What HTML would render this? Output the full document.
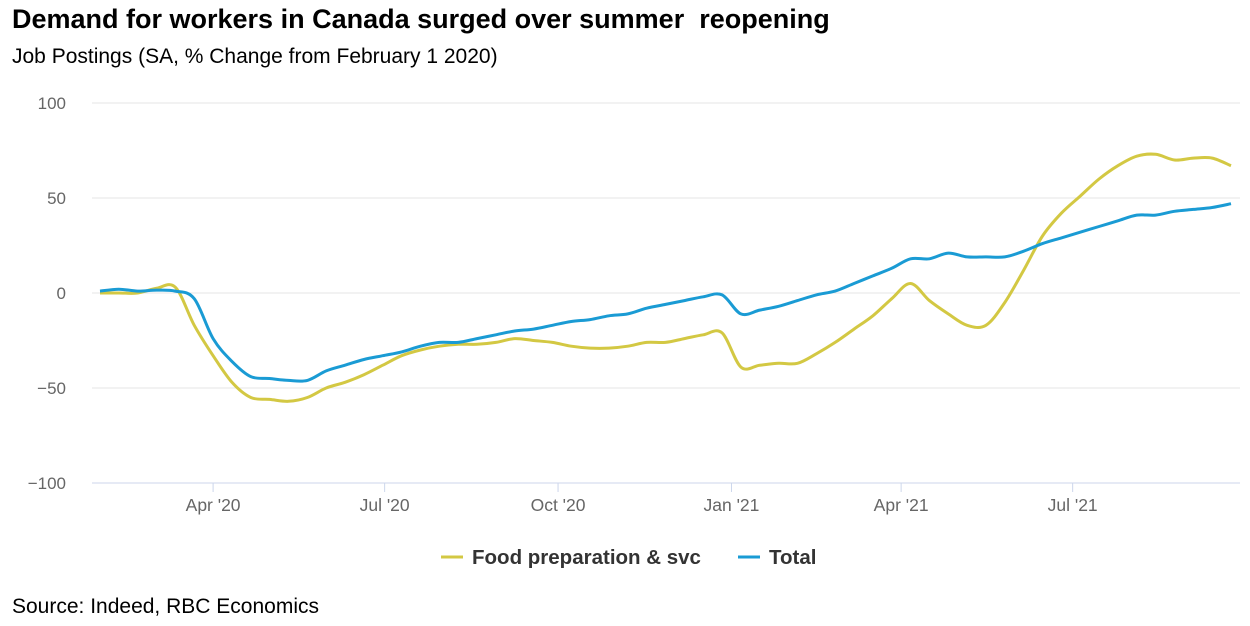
<!DOCTYPE html>
<html><head><meta charset="utf-8"><style>
body{margin:0;background:#fff;font-family:"Liberation Sans",Arial,sans-serif;}
#wrap{position:relative;width:1250px;height:626px;overflow:hidden;}
.t{position:absolute;white-space:nowrap;color:#000;}
</style></head><body>
<div id="wrap">
<div class="t" style="left:12px;top:4px;font-size:27px;font-weight:bold;">Demand for workers in Canada surged over summer&nbsp; reopening</div>
<div class="t" style="left:12px;top:45px;font-size:21px;">Job Postings (SA, % Change from February 1 2020)</div>
<svg id="chart" width="1250" height="626" style="position:absolute;left:0;top:0"></svg>
<div class="t" style="left:12px;top:595px;font-size:21px;">Source: Indeed, RBC Economics</div>
</div>
<script>
const startDate = "2020-02-01";
const stepDays = 10;
const totalValues = [1,2,1,1.5,1,-3,-24,-36,-44,-45,-46,-46,-41,-38,-35,-33,-31,-28,-26,-26,-24,-22,-20,-19,-17,-15,-14,-12,-11,-8,-6,-4,-2,-1,-11,-9,-7,-4,-1,1,5,9,13,18,18,21,19,19,19,22,26,29,32,35,38,41,41,43,44,45,47];
const foodValues = [0,0,0,2.5,3,-17,-33,-47,-55,-56,-57,-55,-50,-47,-43,-38,-33,-30,-28,-27,-27,-26,-24,-25,-26,-28,-29,-29,-28,-26,-26,-24,-22,-21,-39,-38,-37,-37,-32,-26,-19,-12,-3,5,-4,-11,-17,-17,-5,12,30,42,51,60,67,72,73,70,71,71,67];
const yTicks = [100,50,0,-50,-100];
const yTickLabels = ["100","50","0","\u221250","\u2212100"];
const xTickDates = ["2020-04-01","2020-07-01","2020-10-01","2021-01-01","2021-04-01","2021-07-01"];
const xTickLabels = ["Apr '20","Jul '20","Oct '20","Jan '21","Apr '21","Jul '21"];
const seriesNames = ["Food preparation & svc","Total"];
const seriesColors = ["#d3c843","#1a9bd4"];

const NS="http://www.w3.org/2000/svg";
const svg=document.getElementById('chart');
const t0=Date.parse(startDate);
function dayOf(s){return (Date.parse(s)-t0)/86400000;}
function xS(d){return 100+d*1.885;}
function yS(v){return 293-v*1.9;}
function mk(tag,attrs){const e=document.createElementNS(NS,tag);for(const k in attrs)e.setAttribute(k,attrs[k]);svg.appendChild(e);return e;}
yTicks.forEach((v,i)=>{
  const g=mk('line',{x1:92,x2:1240,y1:yS(v),y2:yS(v),stroke:v===-100?'#ccd6eb':'#e6e6e6','stroke-width':1});
  
  
  const t=mk('text',{x:66,y:yS(v)+6,'text-anchor':'end','font-size':17,fill:'#666','font-family':'Liberation Sans, sans-serif'});
  t.textContent=yTickLabels[i];
  
  
});
xTickDates.forEach((d,i)=>{
  const x=xS(dayOf(d));
  const l=mk('line',{x1:x,x2:x,y1:483,y2:492,stroke:'#ccd6eb'});
  
  
  const t=mk('text',{x:x,y:511,'text-anchor':'middle','font-size':17.5,fill:'#666','font-family':'Liberation Sans, sans-serif'});
  t.textContent=xTickLabels[i];
  
  
});
function path(vals){
  const p=vals.map((v,i)=>[xS(i*stepDays),yS(v)]);
  let d='M'+p[0][0]+','+p[0][1];
  for(let i=0;i<p.length-1;i++){
    const a=p[Math.max(0,i-1)],b=p[i],c=p[i+1],e=p[Math.min(p.length-1,i+2)];
    const c1=[b[0]+(c[0]-a[0])/6,b[1]+(c[1]-a[1])/6],c2=[c[0]-(e[0]-b[0])/6,c[1]-(e[1]-b[1])/6];
    d+=' C'+c1+' '+c2+' '+c;
  }
  return d;
}
const pf=mk('path',{d:path(foodValues),fill:'none',stroke:seriesColors[0],'stroke-width':3,'stroke-linejoin':'round'});


const pt=mk('path',{d:path(totalValues),fill:'none',stroke:seriesColors[1],'stroke-width':3,'stroke-linejoin':'round'});


const legX=[441,738];
seriesNames.forEach((n,i)=>{
  const l=mk('line',{x1:legX[i],x2:legX[i]+22,y1:557,y2:557,stroke:seriesColors[i],'stroke-width':3});
  
  
  const t=mk('text',{x:legX[i]+31,y:564,'font-size':20.5,'font-weight':'bold',fill:'#333','font-family':'Liberation Sans, sans-serif'});
  t.textContent=n;
  
  
});
</script>
</body></html>
